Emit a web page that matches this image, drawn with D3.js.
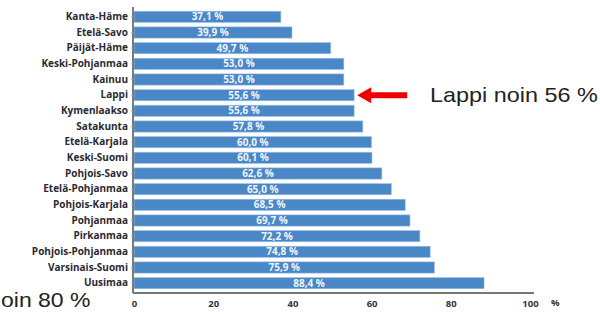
<!DOCTYPE html>
<html>
<head>
<meta charset="utf-8">
<script src="https://cdn.jsdelivr.net/npm/d3@7"></script>
<style>
  body { margin: 0; background: #fff; }
  svg { display: block; }
</style>
</head>
<body>
<div id="chart"></div>
<script>
// data
const regions = ["Kanta-Häme", "Etelä-Savo", "Päijät-Häme", "Keski-Pohjanmaa", "Kainuu", "Lappi",
  "Kymenlaakso", "Satakunta", "Etelä-Karjala", "Keski-Suomi", "Pohjois-Savo", "Etelä-Pohjanmaa",
  "Pohjois-Karjala", "Pohjanmaa", "Pirkanmaa", "Pohjois-Pohjanmaa", "Varsinais-Suomi", "Uusimaa"]
const shares = [37.1, 39.9, 49.7, 53.0, 53.0, 55.6, 55.6, 57.8, 60.0, 60.1, 62.6, 65.0,
  68.5, 69.7, 72.2, 74.8, 75.9, 88.4]
const xTicks = [0, 20, 40, 60, 80, 100]
const highlight = "Lappi"
const noteRight = "Lappi noin 56 %"
const noteLeft = "oin 80 %"   // only this part shows on the slide

let width = 600, height = 314
let margin = { top: 9, left: 134, right: 70, bottom: 23 }

let svg = d3.select("#chart").append("svg")
    .attr("width", width)
    .attr("height", height)

let x = d3.scaleLinear()
    .domain([0, 100])
    .range([margin.left, 530])

let y = d3.scaleBand()
    .domain(regions)
    .range([margin.top, height - margin.bottom])
    .paddingInner(0.28)
    .paddingOuter(0.14)

// bars
svg.append("g").selectAll("rect")
  .data(shares)
  .join("rect")
    .attr("x", x(0))
    .attr("y", (d, i) => y(regions[i]))
    .attr("width", d => x(d) - x(0))
    .attr("height", y.bandwidth())
    .attr("fill", "#4a87c7")
    .attr("stroke", "#a9c8e8")
    .attr("stroke-width", 0.6)

// value labels
svg.append("g").selectAll("text")
  .data(shares)
  .join("text")
    .attr("x", d => (x(0) + x(d)) / 2)
    .attr("y", (d, i) => y(regions[i]) + y.bandwidth() / 2)
    .attr("dy", "0.36em")
    .attr("text-anchor", "middle")
    .attr("font-family", "Open Sans, sans-serif")
    .attr("font-weight", 700)
    .attr("font-size", 10)
    .attr("fill", "#eef4fb")
    .text(d => d3.format(".1f")(d).replace(".", ",") + " %")

// y axis
svg.append("g")
    .attr("transform", `translate(${x(0) - 1},0)`)
    .call(d3.axisLeft(y).tickSize(2).tickPadding(3))
    .call(g => g.select(".domain").attr("stroke", "#222").attr("stroke-width", 1.2)
        .attr("d", `M0,${margin.top - 2}V${height - margin.bottom + 2}`))
    .call(g => g.selectAll(".tick line").attr("stroke", "#aaa"))
    .call(g => g.selectAll(".tick text")
        .attr("font-family", "Open Sans, sans-serif")
        .attr("font-weight", 700)
        .attr("font-size", 10)
        .attr("fill", "#2a2a33"))

// x axis
svg.append("g")
    .attr("transform", `translate(0,${height - margin.bottom + 2})`)
    .call(d3.axisBottom(x).tickValues(xTicks).tickSize(0).tickPadding(7))
    .call(g => g.select(".domain").attr("stroke", "#777").attr("stroke-width", 2)
        .attr("d", `M${x(0) - 1},0H${x(100) + 4}`))
    .call(g => g.selectAll(".tick text")
        .attr("font-family", "Open Sans, sans-serif")
        .attr("font-weight", 700)
        .attr("font-size", 9.5)
        .attr("fill", "#333"))

svg.append("text")
    .attr("x", x(100) + 21)
    .attr("y", height - margin.bottom + 15)
    .attr("font-family", "Open Sans, sans-serif")
    .attr("font-weight", 700)
    .attr("font-size", 9.5)
    .attr("fill", "#333")
    .text("%")

// annotation arrow pointing at Lappi
let li = regions.indexOf(highlight)
let ay = y(highlight) + y.bandwidth() / 2
let ax = x(shares[li]) + 3
svg.append("path")
    .attr("d", `M${ax},${ay} L${ax + 14},${ay - 8} L${ax + 14},${ay - 3} L${ax + 50},${ay - 3}
      L${ax + 50},${ay + 3} L${ax + 14},${ay + 3} L${ax + 14},${ay + 8} Z`)
    .attr("fill", "#ee0000")

// the slide text is a bit stretched sideways
svg.append("text")
    .attr("transform", `translate(430,${ay + 7}) scale(1.17,1)`)
    .attr("font-family", "Liberation Sans, Arial, sans-serif")
    .attr("font-size", 20)
    .attr("fill", "#222")
    .text(noteRight)

svg.append("text")
    .attr("transform", `translate(1,307) scale(1.15,1)`)
    .attr("font-family", "Liberation Sans, Arial, sans-serif")
    .attr("font-size", 20)
    .attr("fill", "#222")
    .text(noteLeft)
</script>
</body>
</html>
